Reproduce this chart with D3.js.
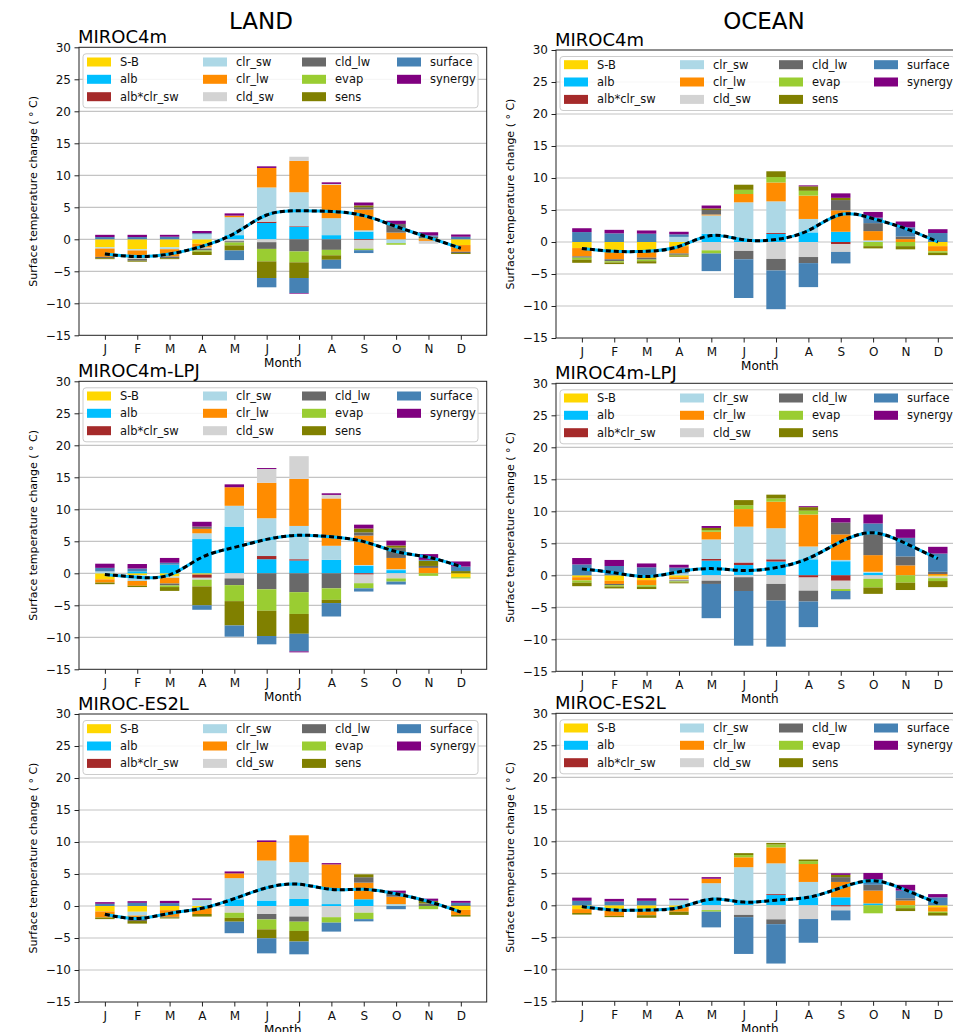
<!DOCTYPE html>
<html>
<head>
<meta charset="utf-8">
<script src="https://cdn.jsdelivr.net/npm/d3@7"></script>
<style>
  body { margin: 0; background: #fff; }
  svg { display: block; font-family: 'DejaVu Sans', sans-serif; }
</style>
</head>
<body>
<svg id="chart" width="953" height="1032"></svg>
<script>
const months = ['J', 'F', 'M', 'A', 'M', 'J', 'J', 'A', 'S', 'O', 'N', 'D'];
const components = ['S-B', 'alb', 'alb*clr_sw', 'clr_sw', 'clr_lw', 'cld_sw', 'cld_lw', 'evap', 'sens', 'surface', 'synergy'];
const colors = ['#ffd700', '#00bfff', '#a52a2a', '#add8e6', '#ff8c00', '#d3d3d3', '#696969', '#9acd32', '#808000', '#4682b4', '#800080'];
const yTicks = [-15, -10, -5, 0, 5, 10, 15, 20, 25, 30];

// each row follows the order of `components`, each column a month
const landMIROC4m = [
  [-1.25, -1.55, -1.25, -0.7, 0, 0, 0, 0, 0, 0, 0.15, -0.9],
  [0, 0, 0, 0, 0.65, 2.55, 1.95, 0.65, 1.2, 0, 0, 0],
  [0, 0, 0, 0, 0, 0.2, 0.1, 0, -0.15, 0, 0, 0],
  [-0.2, -0.2, -0.3, 0.8, 2.8, 5.35, 5.3, 2.65, 0.2, -0.6, 0, 0],
  [-1.3, -1.2, -1.15, -0.6, 0.25, 3.05, 4.9, 5.2, 3.25, 1.05, -0.25, -1.05],
  [0, -0.1, 0, -0.15, -0.3, -0.45, 0.65, 0.15, -1.3, 0, -0.45, 0],
  [-0.2, -0.3, -0.25, -0.3, -0.2, -1.05, -1.9, -1.65, 0.35, 1.35, 0.25, -0.2],
  [0, 0, 0, -0.2, -0.45, -1.95, -1.7, -0.85, -0.25, -0.25, 0, 0],
  [-0.15, -0.15, -0.15, -0.5, -0.8, -2.6, -2.45, -0.7, 0.3, 0, 0, -0.15],
  [0.35, 0.35, 0.4, 0.15, -1.5, -1.45, -2.35, -1.4, -0.45, 0, 0.2, 0.4],
  [0.35, 0.35, 0.3, 0.35, 0.35, 0.25, -0.1, 0.25, 0.45, 0.5, 0.5, 0.35]
];
const landMIROC4mTotal = [-2.3, -2.7, -2.3, -1.1, 0.9, 3.8, 4.45, 4.35, 3.7, 2.0, 0.3, -1.4];

const oceanMIROC4m = [
  [-0.95, -1.3, -1.3, -0.65, 0, 0, 0, 0, 0, 0, 0, -0.65],
  [0, 0, 0, 0, 1.3, 0.3, 1.25, 1.5, 1.6, 0, 0, 0],
  [0, 0, 0, 0, 0, 0, 0.15, 0, -0.35, 0, 0, 0],
  [0, 0, 0, 0.8, 2.85, 5.9, 4.95, 2.1, 0, 0.25, 0, 0],
  [-1.3, -1.4, -1.15, -1.15, 0.15, 1.3, 2.95, 3.65, 3.35, 1.45, 0.45, -0.8],
  [0, 0, 0, 0, -1.3, -1.4, -2.65, -2.35, -1.2, 0, 0, 0],
  [-0.2, -0.3, -0.3, -0.2, 0.7, -1.3, -1.8, -0.95, 1.6, 1.25, 0.4, 0],
  [-0.3, -0.2, -0.25, -0.1, -0.5, 0.65, 0.85, 0.75, 0, -0.65, -0.65, -0.25],
  [-0.5, -0.25, -0.35, -0.2, 0.25, 0.8, 0.9, 0.7, 0.35, -0.35, -0.5, -0.35],
  [1.55, 1.35, 1.3, 0.4, -2.75, -6.05, -6.05, -3.75, -1.8, 0.85, 1.45, 1.4],
  [0.6, 0.55, 0.5, 0.4, 0.45, 0, 0, 0.15, 0.7, 0.9, 0.9, 0.6]
];
const oceanMIROC4mTotal = [-1.0, -1.45, -1.45, -0.7, 1.0, 0.35, 0.4, 1.8, 4.3, 3.65, 2.1, 0.0];

const landLPJ = [
  [-0.95, -0.3, -0.5, -0.2, 0, 0, 0, 0, 0, 0, 0, -0.6],
  [0, 0.3, 1.35, 5.35, 7.3, 2.2, 2.0, 2.1, 1.2, 0.5, 0, 0],
  [0, 0, 0, -0.5, 0, 0.5, 0.2, 0, -0.2, 0, 0, 0],
  [0.3, -0.9, -0.2, 0.9, 3.25, 5.9, 5.2, 2.2, 0.1, 0.15, 0, 0],
  [-0.5, -0.75, -0.9, 0.7, 2.9, 5.55, 7.35, 7.4, 4.6, 1.75, 0.85, 0],
  [0, 0, 0, -0.3, -0.8, 2.15, 3.55, 0.55, -1.35, -0.8, 0, 0],
  [0, 0, -0.3, 0.35, -1.05, -2.5, -2.95, -2.35, 0.5, 1.6, 0.3, 0],
  [0, 0, -0.25, -1.05, -2.5, -3.35, -3.4, -1.8, -0.8, -0.5, -0.4, -0.2],
  [-0.25, -0.2, -0.6, -2.95, -3.8, -3.95, -3.1, -0.5, 0.6, 0.35, 0.8, 0.35],
  [0.55, 0.45, 0.3, -0.7, -1.75, -1.3, -2.75, -2.1, -0.5, -0.45, 0.15, 0.7],
  [0.65, 0.7, 0.75, 0.75, 0.45, 0.15, -0.15, 0.25, 0.6, 0.75, 0.9, 0.8]
];
const landLPJTotal = [-0.2, -0.6, -0.25, 2.5, 4.05, 5.3, 5.95, 5.7, 4.95, 3.4, 2.5, 1.05];

const oceanLPJ = [
  [-0.3, -0.85, -0.75, -0.3, 0, 0, 0, 0, 0, 0, 0, -0.2],
  [0, 0, 0, 0, 2.3, 1.6, 2.15, 2.5, 2.2, 0.4, 0, 0],
  [0, 0, 0, 0, 0.25, 0.4, 0.35, -0.35, -0.85, 0, 0, 0],
  [0, 0, 0, 0.3, 3.05, 5.6, 4.85, 2.0, 0.2, 0.15, 0, 0],
  [-0.5, -0.5, -0.8, -0.3, 1.2, 2.75, 4.15, 5.0, 4.0, 2.6, 1.55, 0.2],
  [0, 0, 0, -0.2, -0.85, -0.3, -1.35, -2.05, -1.3, -0.55, 0, -0.25],
  [0, -0.2, 0, -0.15, -0.5, -2.15, -2.6, -1.7, 1.85, 3.3, 1.4, 0.35],
  [-0.35, -0.2, -0.25, -0.15, 0.25, 0.6, 0.5, 0.6, -0.3, -1.35, -1.15, -0.45],
  [-0.55, -0.3, -0.35, -0.15, 0.35, 0.8, 0.6, 0.55, 0, -1.0, -1.15, -0.95],
  [1.7, 1.45, 1.25, 0.9, -5.35, -8.55, -7.2, -4.0, -1.3, 1.65, 2.9, 2.85],
  [1.0, 0.95, 0.6, 0.45, 0.3, 0, 0, 0.15, 0.7, 1.4, 1.35, 1.05]
];
const oceanLPJTotal = [1.0, 0.4, -0.2, 0.55, 1.05, 0.75, 1.2, 2.65, 5.25, 6.65, 5.0, 2.6];

const landES2L = [
  [-0.85, -0.9, -0.65, -0.3, 0, 0, 0, 0, 0, 0, 0, -0.6],
  [0, 0, 0, 0, 1.05, 0.85, 1.1, 0.3, 1.05, 0, 0, 0],
  [0, 0, 0, 0, 0, 0, 0, 0, 0, 0, 0, 0],
  [0, -0.6, 0, 0.95, 3.3, 6.25, 5.75, 2.45, 0, 0.3, 0, 0],
  [-0.95, -0.5, -1.05, -0.95, 0.75, 2.9, 4.2, 3.75, 2.6, 1.15, 0, -0.8],
  [0, 0, 0, 0, -1.05, -1.25, -1.65, -1.75, -1.05, 0, 0, 0],
  [0, -0.35, -0.1, 0, 0, -0.85, -0.8, 0, 0.85, 0.6, 0.4, 0.15],
  [0, 0, 0, 0, -0.8, -1.55, -1.45, -0.85, -1.0, 0, -0.5, 0],
  [-0.25, -0.4, -0.15, -0.4, -0.6, -1.4, -1.65, 0, 0.45, 0, 0.4, -0.25],
  [0.35, 0.5, 0.45, 0, -1.8, -2.35, -2.0, -1.4, -0.35, -0.5, 0, 0.35],
  [0.25, 0.25, 0.35, 0.25, 0.3, 0.25, 0, 0.2, 0, 0.35, 0.35, 0.3]
];
const landES2LTotal = [-1.3, -1.95, -1.15, -0.35, 1.15, 2.85, 3.4, 2.6, 2.6, 1.9, 0.7, -0.95];

const oceanES2L = [
  [-0.6, -0.85, -0.75, -0.3, 0, 0, 0, 0, 0, 0, 0, -0.3],
  [0, 0, 0, 0, 0.85, 0.45, 1.6, 1.25, 1.25, 0.3, 0, 0],
  [0, 0, 0, 0, 0, 0, 0.15, 0, -0.2, 0, 0, 0],
  [0, 0, 0, 0.8, 2.6, 5.5, 4.8, 2.4, 0, 0, 0, 0],
  [-0.6, -0.8, -0.8, -0.7, 0.7, 1.55, 2.5, 2.8, 2.4, 2.0, 0.75, -0.7],
  [0, 0, 0, 0, -0.75, -1.5, -2.2, -2.15, -0.6, 0, 0, 0],
  [0, 0, 0, 0, 0, -0.35, -0.75, 0, 0.75, 0.9, 0.35, 0],
  [0, 0, 0, 0, -0.25, 0.35, 0.45, 0.45, 0, -1.25, -0.45, -0.2],
  [-0.25, -0.2, -0.4, -0.5, 0, 0.3, 0.25, 0.25, 0.35, 0, -0.45, -0.4],
  [0.7, 0.6, 0.7, 0, -2.45, -5.75, -6.15, -3.7, -1.55, 0.9, 1.2, 1.25],
  [0.5, 0.4, 0.4, 0.25, 0.25, 0, 0, 0, 0.25, 0.95, 0.9, 0.5]
];
const oceanES2LTotal = [-0.2, -0.75, -0.75, -0.35, 0.95, 0.5, 0.8, 1.25, 2.75, 3.85, 2.4, 0.3];

const panels = [
  { title: 'MIROC4m', data: landMIROC4m, total: landMIROC4mTotal, x0: 79, y0: 47.3 },
  { title: 'MIROC4m', data: oceanMIROC4m, total: oceanMIROC4mTotal, x0: 556, y0: 50 },
  { title: 'MIROC4m-LPJ', data: landLPJ, total: landLPJTotal, x0: 79, y0: 381.3 },
  { title: 'MIROC4m-LPJ', data: oceanLPJ, total: oceanLPJTotal, x0: 556, y0: 383.3 },
  { title: 'MIROC-ES2L', data: landES2L, total: landES2LTotal, x0: 79, y0: 714 },
  { title: 'MIROC-ES2L', data: oceanES2L, total: oceanES2LTotal, x0: 556, y0: 713.3 }
];

const plotW = 407.7;
const plotH = 288;
const barW = 0.6;

const svg = d3.select('#chart');

svg.append('text').attr('x', 261).attr('y', 29).attr('text-anchor', 'middle')
  .attr('font-size', 23).text('LAND');
svg.append('text').attr('x', 764).attr('y', 29).attr('text-anchor', 'middle')
  .attr('font-size', 23).text('OCEAN');

panels.forEach((p) => {
  const x = d3.scaleLinear().domain([-0.8, 11.8]).range([p.x0, p.x0 + plotW]);
  const y = d3.scaleLinear().domain([-15, 30]).range([p.y0 + plotH, p.y0]);
  const g = svg.append('g');

  // grid
  g.selectAll('line.grid')
    .data(yTicks.filter((t) => t > -15 && t < 30))
    .enter()
    .append('line')
    .attr('x1', p.x0).attr('x2', p.x0 + plotW)
    .attr('y1', (d) => y(d)).attr('y2', (d) => y(d))
    .attr('stroke', '#c4c4c4').attr('stroke-width', 1.2);

  // stacked bars, positives up from 0 and negatives down from 0
  const segs = [];
  months.forEach((m, i) => {
    let pos = 0;
    let neg = 0;
    components.forEach((c, k) => {
      const v = p.data[k][i];
      if (v > 0) {
        segs.push({ i, k, lo: pos, hi: pos + v });
        pos += v;
      } else if (v < 0) {
        segs.push({ i, k, lo: neg + v, hi: neg });
        neg += v;
      }
    });
  });

  g.selectAll('rect.bar')
    .data(segs)
    .enter()
    .append('rect')
    .attr('class', 'bar')
    .attr('x', (d) => x(d.i - barW / 2))
    .attr('width', x(barW) - x(0))
    .attr('y', (d) => y(d.hi))
    .attr('height', (d) => y(d.lo) - y(d.hi))
    .attr('fill', (d) => colors[d.k]);

  // total change line
  const line = d3.line()
    .x((d, i) => x(i))
    .y((d) => y(d))
    .curve(d3.curveNatural);

  g.append('path').datum(p.total).attr('d', line)
    .attr('fill', 'none').attr('stroke', '#00bfff').attr('stroke-width', 3);
  g.append('path').datum(p.total).attr('d', line)
    .attr('fill', 'none').attr('stroke', '#000').attr('stroke-width', 3)
    .attr('stroke-dasharray', '5,3');

  // legend
  const lg = g.append('g').attr('transform', `translate(${p.x0},${p.y0})`);
  lg.append('rect')
    .attr('x', 4).attr('y', 6.5).attr('width', 395).attr('height', 54)
    .attr('rx', 3).attr('fill', '#fff').attr('fill-opacity', 0.85)
    .attr('stroke', '#cccccc').attr('stroke-width', 1);
  const colX = [8, 124, 223, 318];
  const rowY = [14.7, 32, 49.4];
  components.forEach((c, k) => {
    const col = Math.floor(k / 3);
    const row = k % 3;
    lg.append('rect')
      .attr('x', colX[col]).attr('y', rowY[row] - 4.5)
      .attr('width', 24).attr('height', 9)
      .attr('fill', colors[k]);
    lg.append('text')
      .attr('x', colX[col] + 33).attr('y', rowY[row] + 4)
      .attr('font-size', 11.5).attr('fill', '#111')
      .text(c);
  });

  // axes
  const yAxis = d3.axisLeft(y).tickValues(yTicks).tickSize(4.5).tickPadding(3.5).tickSizeOuter(0);
  const xAxis = d3.axisBottom(x).tickValues(d3.range(12))
    .tickFormat((i) => months[i]).tickSize(4.5).tickPadding(4.5).tickSizeOuter(0);

  const ya = g.append('g').attr('transform', `translate(${p.x0},0)`).call(yAxis);
  const xa = g.append('g').attr('transform', `translate(0,${p.y0 + plotH})`).call(xAxis);
  [ya, xa].forEach((a) => {
    a.select('.domain').remove();
    a.selectAll('text').attr('font-size', 12).attr('font-family', 'DejaVu Sans').attr('fill', '#111');
    a.selectAll('line').attr('stroke', '#222');
  });

  g.append('rect')
    .attr('x', p.x0).attr('y', p.y0).attr('width', plotW).attr('height', plotH)
    .attr('fill', 'none').attr('stroke', '#222').attr('stroke-width', 1);

  g.append('text')
    .attr('x', p.x0 - 1).attr('y', p.y0 - 4.5)
    .attr('font-size', 18).text(p.title);

  g.append('text')
    .attr('transform', `translate(${p.x0 - 42},${p.y0 + plotH / 2}) rotate(-90)`)
    .attr('text-anchor', 'middle').attr('font-size', 11)
    .text('Surface temperature change ( \u00b0 C)');

  g.append('text')
    .attr('x', p.x0 + plotW / 2).attr('y', p.y0 + plotH + 32)
    .attr('text-anchor', 'middle').attr('font-size', 12)
    .text('Month');
});
</script>
</body>
</html>
